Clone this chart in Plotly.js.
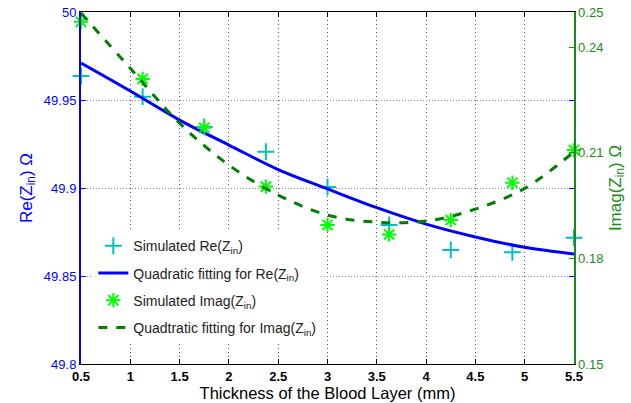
<!DOCTYPE html>
<html>
<head>
<meta charset="utf-8">
<script src="https://cdn.plot.ly/plotly-3.0.1.min.js"></script>
<style>html,body{margin:0;padding:0;background:#fff;}#chart{width:631px;height:403px;}</style>
</head>
<body>
<div id="chart"></div>
<script>
// Simulated sample thicknesses (mm)
const thickness = [0.5, 1.125, 1.75, 2.375, 3, 3.625, 4.25, 4.875, 5.5];
const reSim   = [49.9636, 49.9519, 49.9347, 49.9206, 49.9006, 49.8790, 49.8648, 49.8635, 49.8718];
const imagSim = [0.2472, 0.2310, 0.2171, 0.2004, 0.1895, 0.1868, 0.1909, 0.2015, 0.2108];

// Fitted curves
const fitX    = [0.5, 1.0, 1.5, 2.0, 2.5, 3.0, 3.5, 4.0, 4.5, 5.0, 5.5];
const reFit   = [49.9710, 49.9551, 49.9386, 49.9244, 49.9105, 49.8995, 49.8888, 49.8795, 49.8722, 49.8663, 49.8625];
const imagFit = [0.2497, 0.2340, 0.2184, 0.2065, 0.1980, 0.1923, 0.1903, 0.1906, 0.1940, 0.1999, 0.2103];

const xTicks  = [0.5, 1, 1.5, 2, 2.5, 3, 3.5, 4, 4.5, 5, 5.5];
const xLabels = ['0.5', '1', '1.5', '2', '2.5', '3', '3.5', '4', '4.5', '5', '5.5'];
const reTicks = [49.8, 49.85, 49.9, 49.95, 50];
const reLabels = ['49.8', '49.85', '49.9', '49.95', '50'];
const imTicks = [0.15, 0.18, 0.21, 0.24, 0.25];
const imLabels = ['0.15', '0.18', '0.21', '0.24', '0.25'];

const FONT = 'Liberation Sans, Arial, Helvetica, sans-serif';
const BLUE = '#0000ff';
const GREEN = '#1a8a1a';

const traces = [
  {x: thickness, y: reSim, type: 'scatter', mode: 'markers', name: 'Simulated Re(Z<sub>in</sub>)',
   legendgroup: 'a', cliponaxis: false,
   marker: {symbol: 'cross-thin-open', size: 12, color: '#00bfbf', line: {width: 2, color: '#00bfbf'}}},
  {x: fitX, y: reFit, type: 'scatter', mode: 'lines', name: 'Quadratic fitting for Re(Z<sub>in</sub>)',
   legendgroup: 'b', line: {color: BLUE, width: 3, shape: 'spline'}},
  {x: thickness, y: imagSim, type: 'scatter', mode: 'markers', name: 'Simulated Imag(Z<sub>in</sub>)',
   legendgroup: 'c', yaxis: 'y2', cliponaxis: false,
   marker: {symbol: 'asterisk-open', size: 12, color: '#00ff00', line: {width: 2, color: '#00ff00'}}},
  {x: fitX, y: imagFit, type: 'scatter', mode: 'lines', name: 'Quadtratic fitting for Imag(Z<sub>in</sub>)',
   legendgroup: 'd', yaxis: 'y2', line: {color: '#007f00', width: 3, dash: 'dash', shape: 'spline'}}
];

const layout = {
  width: 631, height: 403,
  margin: {l: 81, r: 57, t: 12, b: 39},
  paper_bgcolor: '#fff', plot_bgcolor: '#fff',
  font: {family: FONT, size: 13, color: '#000'},
  showlegend: true,
  legend: {x: 0.025, y: 0.38, xanchor: 'left', yanchor: 'top', bgcolor: '#fff', borderwidth: 0,
           font: {family: FONT, size: 14, color: '#222'}, traceorder: 'grouped', tracegroupgap: 6},
  xaxis: {range: [0.5, 5.5], tickvals: xTicks, ticktext: xLabels, ticks: 'inside', ticklen: 5,
          tickcolor: '#000', showline: true, linecolor: '#000', linewidth: 1, mirror: 'ticks',
          showgrid: true, gridcolor: '#555', griddash: '1px,3px', gridwidth: 1, zeroline: false,
          tickfont: {family: FONT, size: 13, color: '#000', weight: 'bold'},
          title: {text: 'Thickness of the Blood Layer (mm)', font: {family: FONT, size: 16.5, color: '#000'}, standoff: 3}},
  yaxis: {range: [49.8, 50], tickvals: reTicks, ticktext: reLabels, ticks: 'inside', ticklen: 5,
          tickcolor: BLUE, showline: true, linecolor: BLUE, linewidth: 2, mirror: 'ticks',
          showgrid: true, gridcolor: '#8080ff', griddash: '1px,2px', gridwidth: 1, zeroline: false,
          tickfont: {family: FONT, size: 13, color: BLUE},
          title: {text: 'Re(Z<sub>in</sub>) Ω', font: {family: FONT, size: 17, color: BLUE}, standoff: 7}},
  yaxis2: {range: [0.15, 0.25], overlaying: 'y', side: 'right', tickvals: imTicks, ticktext: imLabels,
           ticks: 'inside', ticklen: 5, tickcolor: GREEN, showline: true, linecolor: GREEN, linewidth: 1.5,
           showgrid: false, zeroline: false,
           tickfont: {family: FONT, size: 13, color: GREEN},
           title: {text: 'Imag(Z<sub>in</sub>) Ω', font: {family: FONT, size: 17, color: GREEN}, standoff: 6}}
};

Plotly.newPlot('chart', traces, layout, {displayModeBar: false, staticPlot: true});
</script>
</body>
</html>
